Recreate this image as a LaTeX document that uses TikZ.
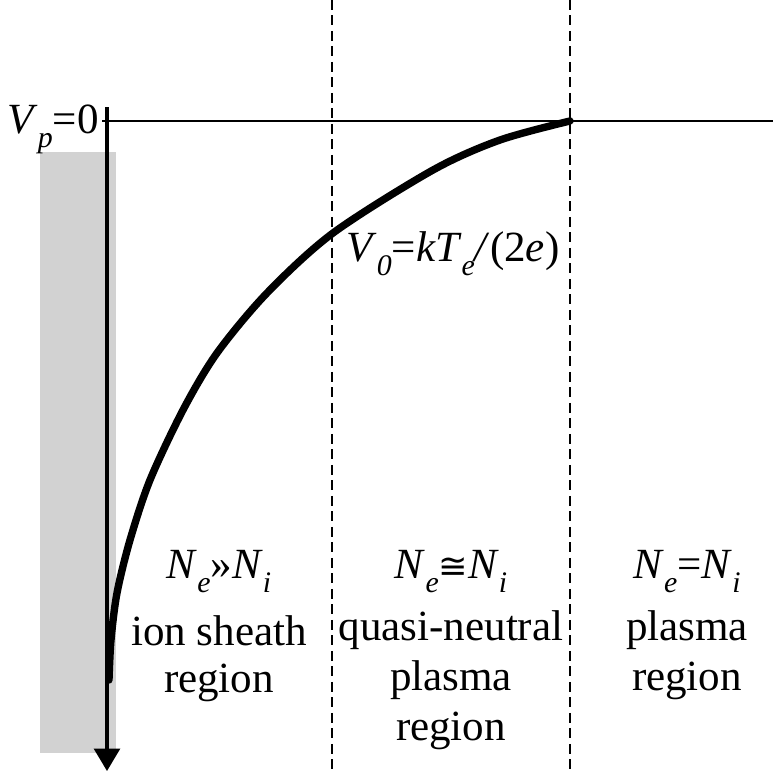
\documentclass[tikz,border=0pt]{standalone}
\usepackage{fontspec}
\setmainfont{Liberation Serif}
\newfontfamily\symfont{DejaVu Sans}
\usetikzlibrary{arrows.meta, positioning}
\newcommand{\lowsub}[1]{\raisebox{-0.34em}{\fontsize{17}{17}\selectfont\textit{#1}}}

\begin{document}
\begin{tikzpicture}[x=0.02cm, y=-0.02cm,
  every node/.style={font=\fontsize{24.5}{28}\selectfont, inner sep=0pt},
  divider/.style={line width=1.1pt, dash pattern=on 0.2cm off 0.11cm},
  potential/.style={line width=4.2pt, line cap=round}]
\useasboundingbox (0,0) rectangle (773,771);
% wall
\fill[gray!35] (40,152) rectangle (116,753);
% axes
\draw[line width=1.4pt] (102,121) -- (773,121);
\draw[line width=1.8pt, -{Triangle[width=0.52cm, length=0.45cm]}] (107,107) -- (107,771);
% region borders
\draw[divider] (332,0) -- (332,771);
\draw[divider] (570,0) -- (570,771);
% potential profile
\draw[potential] plot[smooth] coordinates {(570,121) (500,140) (433,170) (333,233) (267,293) (217,353) (183,410) (150,480) (130,540) (117,593) (111,640) (109,680)};
% labels
\node[anchor=base east] (vp) at (99,133) {\textit{V}\lowsub{p}=0};
\node[anchor=base west] (v0) at (346,261) {\textit{V}\lowsub{0}=\textit{kT}\lowsub{e}\textit{/}(2\textit{e})};
\node[anchor=base] (nsheath) at (219,578) {\textit{N}\lowsub{e}»\textit{N}\lowsub{i}};
\node[anchor=base] (sheath1) at (219,645) {ion sheath};
\node[anchor=base] (sheath2) at (219,692) {region};
\node[anchor=base] (nquasi) at (451,578) {\textit{N}\lowsub{e}{\symfont\fontsize{20}{20}\selectfont ≅}\textit{N}\lowsub{i}};
\node[anchor=base] (quasi1) at (451,640) {quasi-neutral};
\node[anchor=base] (quasi2) at (451,690) {plasma};
\node[anchor=base] (quasi3) at (451,740) {region};
\node[anchor=base] (nplasma) at (687,578) {\textit{N}\lowsub{e}=\textit{N}\lowsub{i}};
\node[anchor=base] (plasma1) at (687,640) {plasma};
\node[anchor=base] (plasma2) at (687,690) {region};
\end{tikzpicture}
\end{document}
